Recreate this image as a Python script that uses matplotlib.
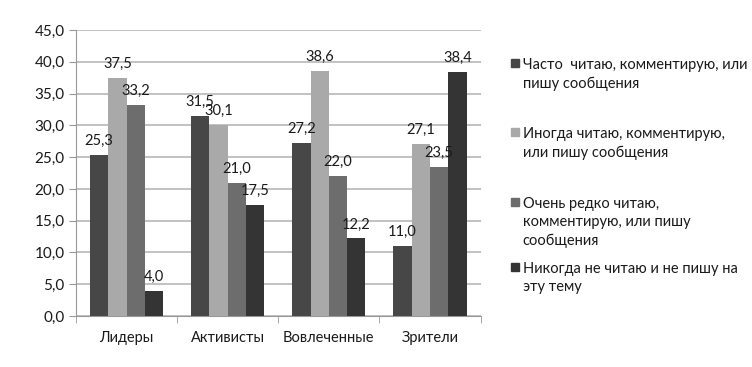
import numpy as np
import matplotlib.pyplot as plt
from matplotlib.patches import Rectangle

plt.rcParams['font.family'] = ['Lato', 'DejaVu Sans']

categories = ["Лидеры", "Активисты", "Вовлеченные", "Зрители"]
series_names = [
    "Часто  читаю, комментирую, или\nпишу сообщения",
    "Иногда читаю, комментирую,\nили пишу сообщения",
    "Очень редко читаю,\nкомментирую, или пишу\nсообщения",
    "Никогда не читаю и не пишу на\nэту тему",
]
often = [25.3, 31.5, 27.2, 11.0]
sometimes = [37.5, 30.1, 38.6, 27.1]
rarely = [33.2, 21.0, 22.0, 23.5]
never = [4.0, 17.5, 12.2, 38.4]

series = [often, sometimes, rarely, never]
colors = ["#474747", "#a9a9a9", "#6d6d6d", "#343434"]
txt = "#1a1a1a"

fig = plt.figure(figsize=(7.52, 3.67), dpi=100)
ax = fig.add_axes([0.101, 0.139, 0.538, 0.779])

x = np.arange(len(categories))
w = 0.181
for i, (vals, c) in enumerate(zip(series, colors)):
    pos = x - 1.5 * w + i * w
    bars = ax.bar(pos, vals, w, color=c, zorder=3)
    for b, v in zip(bars, vals):
        ax.annotate(f"{v:.1f}".replace(".", ","), (b.get_x() + b.get_width() / 2, v),
                    xytext=(0, 5), textcoords="offset points",
                    ha="center", va="bottom", fontsize=10.5, color=txt, zorder=4)

ax.set_xlim(-0.5, len(categories) - 0.5)
ax.set_ylim(0, 45)
yt = np.arange(0, 46, 5)
ax.set_yticks(yt)
ax.set_yticklabels([f"{v:.1f}".replace(".", ",") for v in yt], fontsize=11, color=txt)
ax.yaxis.grid(True, color="#b8b8b8", linewidth=1.2, zorder=0)

ax.set_xticks(x)
ax.set_xticklabels(categories, fontsize=10.5, color=txt)
ax.tick_params(axis="x", length=0, pad=11)
ax.set_xticks(np.arange(-0.5, len(categories), 1), minor=True)
ax.tick_params(axis="x", which="minor", length=5, color="#999999")
ax.tick_params(axis="y", length=5, color="#999999", pad=3)

for s in ["top", "right"]:
    ax.spines[s].set_visible(False)
ax.spines["left"].set_color("#999999")
ax.spines["bottom"].set_color("#999999")

# legend drawn beside the plot
leg_y = [0.828, 0.640, 0.450, 0.272]
for name, c, yy in zip(series_names, colors, leg_y):
    fig.patches.append(Rectangle((0.679, yy - 0.011), 0.0105, 0.0215,
                                 transform=fig.transFigure, color=c))
    fig.text(0.695, yy + 0.014, name, fontsize=10.5, color=txt,
             va="top", ha="left", linespacing=1.4)

fig.savefig("out.png", dpi=100)
